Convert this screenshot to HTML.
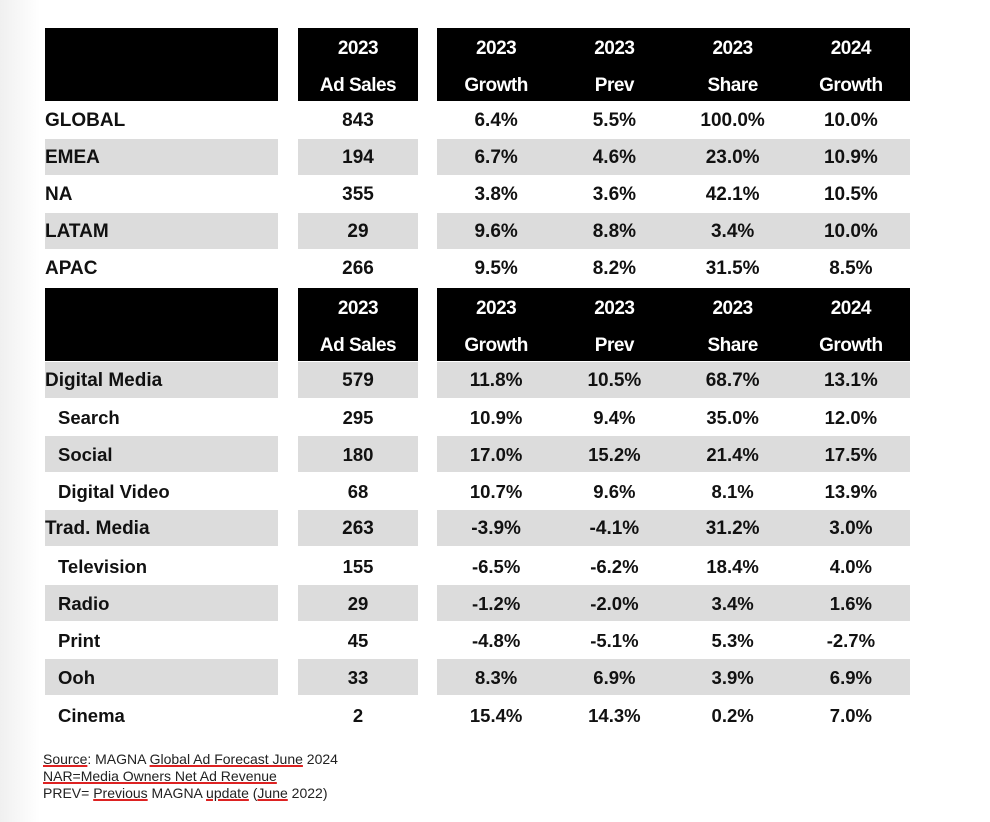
<!DOCTYPE html>
<html><head><meta charset="utf-8"><style>
body{margin:0;width:990px;height:822px;background:#fff;position:relative;overflow:hidden;font-family:"Liberation Sans",sans-serif;}
.bgl{position:absolute;left:0;top:0;width:40px;height:822px;background:linear-gradient(to right,#f0f0f0,#fff);}
.r{position:absolute;left:0;width:990px;height:37px;font-weight:bold;font-size:19px;color:#111;}
.r>div{position:absolute;top:0;height:36px;line-height:37px;}
.l{left:45px;width:233px;text-align:left;}
.a{left:298px;width:120px;text-align:center;}
.b{left:437px;width:473px;display:flex;}
.b span{flex:1;text-align:center;}
.g>div{background:#dcdcdc;}
.h{height:73px;}
.h>div{height:71px;padding-top:2px;background:#000;color:#fff;line-height:37px;font-size:19px;letter-spacing:-0.5px;}
.ind{padding-left:13px;width:220px;}
.n{font-size:18.5px;}
.foot{position:absolute;left:43px;top:751px;font-size:14px;line-height:17px;color:#222;}
.u{text-decoration:underline;text-decoration-color:#d22;text-decoration-thickness:2px;}
</style></head><body>
<div class="bgl"></div>
<div class="r h" style="top:28px"><div class="l"></div><div class="a">2023<br>Ad Sales</div><div class="b"><span>2023<br>Growth</span><span>2023<br>Prev</span><span>2023<br>Share</span><span>2024<br>Growth</span></div></div>
<div class="r" style="top:102px"><div class="l">GLOBAL</div><div class="a">843</div><div class="b"><span>6.4%</span><span>5.5%</span><span>100.0%</span><span>10.0%</span></div></div>
<div class="r g" style="top:139px"><div class="l">EMEA</div><div class="a">194</div><div class="b"><span>6.7%</span><span>4.6%</span><span>23.0%</span><span>10.9%</span></div></div>
<div class="r" style="top:176px"><div class="l">NA</div><div class="a">355</div><div class="b"><span>3.8%</span><span>3.6%</span><span>42.1%</span><span>10.5%</span></div></div>
<div class="r g" style="top:213px"><div class="l">LATAM</div><div class="a">29</div><div class="b"><span>9.6%</span><span>8.8%</span><span>3.4%</span><span>10.0%</span></div></div>
<div class="r" style="top:250px"><div class="l">APAC</div><div class="a">266</div><div class="b"><span>9.5%</span><span>8.2%</span><span>31.5%</span><span>8.5%</span></div></div>
<div class="r h" style="top:288px"><div class="l"></div><div class="a">2023<br>Ad Sales</div><div class="b"><span>2023<br>Growth</span><span>2023<br>Prev</span><span>2023<br>Share</span><span>2024<br>Growth</span></div></div>
<div class="r g" style="top:362px"><div class="l">Digital Media</div><div class="a">579</div><div class="b"><span>11.8%</span><span>10.5%</span><span>68.7%</span><span>13.1%</span></div></div>
<div class="r n" style="top:399px"><div class="l ind">Search</div><div class="a">295</div><div class="b"><span>10.9%</span><span>9.4%</span><span>35.0%</span><span>12.0%</span></div></div>
<div class="r g n" style="top:436px"><div class="l ind">Social</div><div class="a">180</div><div class="b"><span>17.0%</span><span>15.2%</span><span>21.4%</span><span>17.5%</span></div></div>
<div class="r n" style="top:473px"><div class="l ind">Digital Video</div><div class="a">68</div><div class="b"><span>10.7%</span><span>9.6%</span><span>8.1%</span><span>13.9%</span></div></div>
<div class="r g" style="top:510px"><div class="l">Trad. Media</div><div class="a">263</div><div class="b"><span>-3.9%</span><span>-4.1%</span><span>31.2%</span><span>3.0%</span></div></div>
<div class="r n" style="top:548px"><div class="l ind">Television</div><div class="a">155</div><div class="b"><span>-6.5%</span><span>-6.2%</span><span>18.4%</span><span>4.0%</span></div></div>
<div class="r g n" style="top:585px"><div class="l ind">Radio</div><div class="a">29</div><div class="b"><span>-1.2%</span><span>-2.0%</span><span>3.4%</span><span>1.6%</span></div></div>
<div class="r n" style="top:622px"><div class="l ind">Print</div><div class="a">45</div><div class="b"><span>-4.8%</span><span>-5.1%</span><span>5.3%</span><span>-2.7%</span></div></div>
<div class="r g n" style="top:659px"><div class="l ind">Ooh</div><div class="a">33</div><div class="b"><span>8.3%</span><span>6.9%</span><span>3.9%</span><span>6.9%</span></div></div>
<div class="r n" style="top:697px"><div class="l ind">Cinema</div><div class="a">2</div><div class="b"><span>15.4%</span><span>14.3%</span><span>0.2%</span><span>7.0%</span></div></div>
<div class="foot"><span class="u">Source</span>: MAGNA <span class="u">Global Ad Forecast June</span> 2024<br><span class="u">NAR=Media Owners Net Ad Revenue</span><br>PREV= <span class="u">Previous</span> MAGNA <span class="u">update</span> (<span class="u">June</span> 2022)</div>
</body></html>
